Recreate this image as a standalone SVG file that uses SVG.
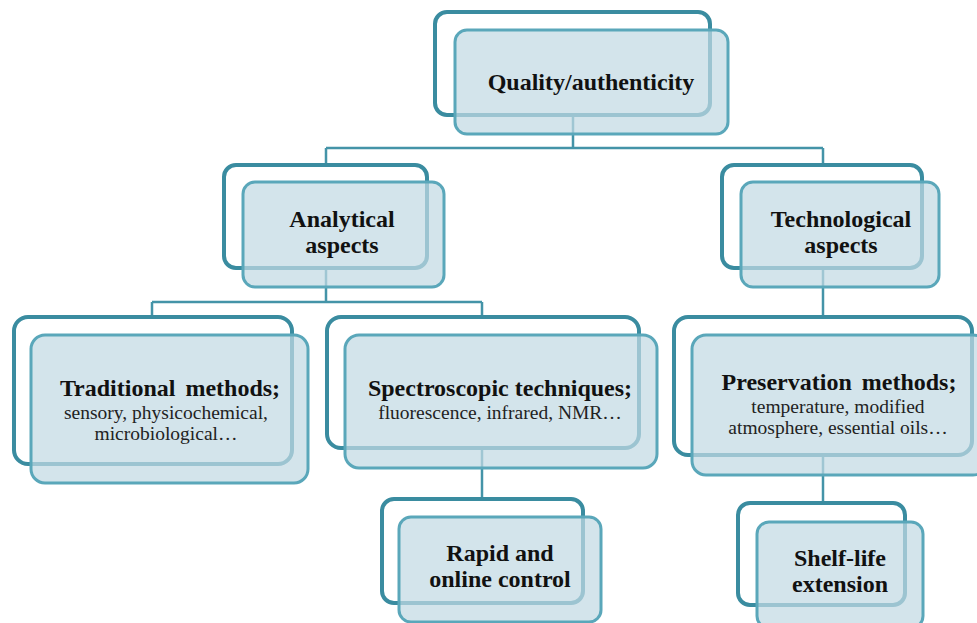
<svg xmlns="http://www.w3.org/2000/svg" width="977" height="623" viewBox="0 0 977 623">
<style>
.back{fill:#ffffff;stroke:#3a8ca0;stroke-width:4}
.front{fill:#c2d9e3;fill-opacity:0.72;stroke:#5aa7ba;stroke-width:3}
.conn{fill:none;stroke:#4494a8;stroke-width:2.5}
.t{font-family:"Liberation Serif","Times New Roman",serif;font-weight:bold;font-size:24px;fill:#111;text-anchor:middle}
.s{font-family:"Liberation Serif","Times New Roman",serif;font-size:19.5px;fill:#222;text-anchor:middle}
</style>
<rect width="977" height="623" fill="#ffffff"/>
<g id="connectors">
<path class="conn" d="M573 115V148M326 148H823M326 148V165M823 148V165"/>
<path class="conn" d="M326 268V302M152 302H482M152 302V317M482 302V317"/>
<path class="conn" d="M482 448V499"/>
<path class="conn" d="M823 268V317"/>
<path class="conn" d="M823 455V503"/>
</g>
<g id="quality">
<rect class="back" x="435" y="12" width="275" height="103" rx="12"/>
<rect class="front" x="455" y="30" width="273" height="104" rx="12"/>
<text class="t" x="591" y="90">Quality/authenticity</text>
</g>
<g id="analytical">
<rect class="back" x="224" y="165" width="203" height="103" rx="12"/>
<rect class="front" x="243" y="182" width="201" height="105" rx="12"/>
<text class="t" x="342" y="227">Analytical</text>
<text class="t" x="342" y="253">aspects</text>
</g>
<g id="technological">
<rect class="back" x="722" y="165" width="200" height="103" rx="12"/>
<rect class="front" x="741" y="182" width="198" height="105" rx="12"/>
<text class="t" x="841" y="227">Technological</text>
<text class="t" x="841" y="253">aspects</text>
</g>
<g id="traditional">
<rect class="back" x="14" y="317" width="278" height="147" rx="14"/>
<rect class="front" x="31" y="335" width="277" height="148" rx="14"/>
<text class="t" x="170" y="396" word-spacing="4">Traditional methods;</text>
<text class="s" x="166" y="419">sensory, physicochemical,</text>
<text class="s" x="166" y="440">microbiological…</text>
</g>
<g id="spectroscopic">
<rect class="back" x="327" y="317" width="312" height="131" rx="14"/>
<rect class="front" x="345" y="335" width="312" height="133" rx="14"/>
<text class="t" x="500" y="396">Spectroscopic techniques;</text>
<text class="s" x="500" y="419">fluorescence, infrared, NMR…</text>
</g>
<g id="preservation">
<rect class="back" x="674" y="317" width="298" height="138" rx="14"/>
<rect class="front" x="692" y="335" width="295" height="140" rx="14"/>
<text class="t" x="839" y="390" word-spacing="4">Preservation methods;</text>
<text class="s" x="838" y="413">temperature, modified</text>
<text class="s" x="838" y="434">atmosphere, essential oils…</text>
</g>
<g id="rapid">
<rect class="back" x="382" y="499" width="201" height="104" rx="12"/>
<rect class="front" x="399" y="517" width="202" height="105" rx="12"/>
<text class="t" x="500" y="561">Rapid and</text>
<text class="t" x="500" y="587">online control</text>
</g>
<g id="shelflife">
<rect class="back" x="738" y="503" width="167" height="102" rx="12"/>
<rect class="front" x="757" y="522" width="166" height="106" rx="12"/>
<text class="t" x="840" y="566">Shelf-life</text>
<text class="t" x="840" y="592">extension</text>
</g>
</svg>
